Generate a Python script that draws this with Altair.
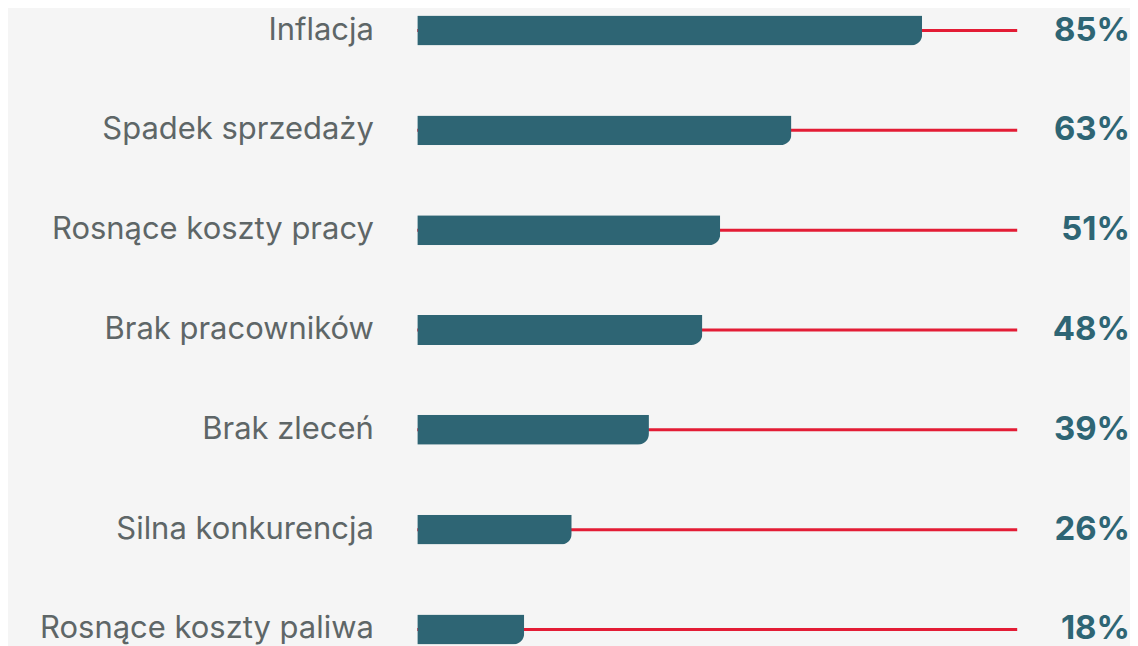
import altair as alt
import pandas as pd

categories = [
    "Inflacja",
    "Spadek sprzedaży",
    "Rosnące koszty pracy",
    "Brak pracowników",
    "Brak zleceń",
    "Silna konkurencja",
    "Rosnące koszty paliwa",
]
values = [85, 63, 51, 48, 39, 26, 18]

df = pd.DataFrame({"cat": categories, "val": values})
df["label"] = df["val"].astype(str) + "%"
df["zero"] = 0
df["lineEnd"] = 101

BAR = "#2e6574"
RED = "#e31c35"
GREY = "#5e6667"
LABEL_FONT = "Inter"
VALUE_FONT = "Inter"

W = 601
H = 644

y = alt.Y(
    "cat:N",
    sort=None,
    scale=alt.Scale(paddingInner=0.7, paddingOuter=0.07),
    axis=alt.Axis(
        title=None,
        domain=False,
        ticks=False,
        grid=False,
        labelFont=LABEL_FONT,
        labelFontSize=31,
        labelFontWeight=400,
        labelColor=GREY,
        labelPadding=44,
        minExtent=410,
        maxExtent=410,
        labelLimit=500,
    ),
)

xscale = alt.Scale(domain=[0, 101], nice=False, zero=True)

rule = alt.Chart(df).mark_rule(color=RED, strokeWidth=3).encode(
    x=alt.X("zero:Q", scale=xscale, axis=None),
    x2="lineEnd:Q",
    y=y,
)

bars = alt.Chart(df).mark_bar(color=BAR, cornerRadiusBottomRight=11).encode(
    x=alt.X("val:Q", scale=xscale, axis=None),
    y=y,
)

text = alt.Chart(df).mark_text(
    align="right",
    baseline="middle",
    font=VALUE_FONT,
    fontSize=33,
    fontWeight="bold",
    color=BAR,
    dy=0,
).encode(
    x=alt.value(714),
    y=y,
    text="label:N",
)

chart = (
    alt.layer(rule, bars, text)
    .properties(width=W, height=H, padding=0, background="#f5f5f5")
    .configure_view(stroke=None)
)

chart.save("out.html", embed_options={"renderer": "svg", "actions": False})
